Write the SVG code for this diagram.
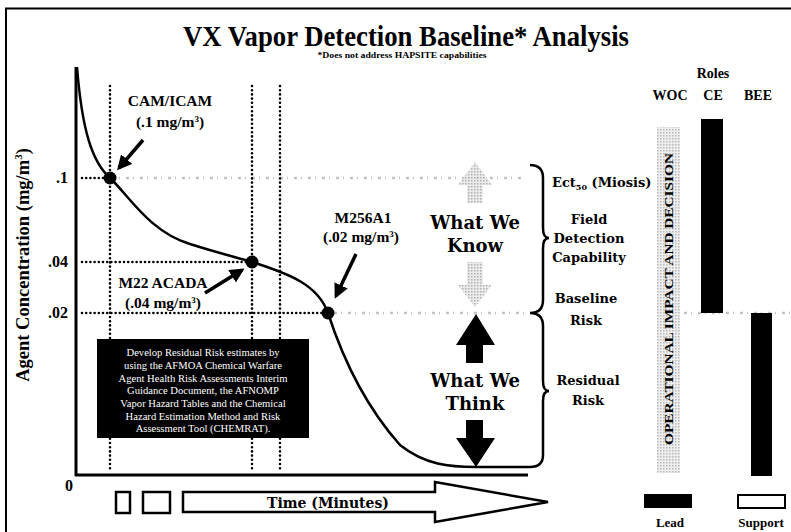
<svg xmlns="http://www.w3.org/2000/svg" width="791" height="532" viewBox="0 0 791 532">
<style>
.t{font-family:"Liberation Serif","Times New Roman",serif;font-weight:bold;fill:#000}
.g{font-family:"DejaVu Serif","Liberation Serif",serif;font-weight:bold;fill:#000}
.dot{stroke:#000;stroke-width:2.6;stroke-linecap:round;stroke-dasharray:0 4.2;fill:none}
.gdot{stroke:#c4c4c4;stroke-width:2.5;stroke-dasharray:3 4 1 6;fill:none}
.ax{stroke:#000;stroke-width:3;fill:none}
.arr{stroke:#000;stroke-width:3.5;fill:none;marker-end:url(#ah)}
.w{font-family:"Liberation Serif","Times New Roman",serif;font-size:10.6px;fill:#fff;text-anchor:middle}
</style>
<defs>
<marker id="ah" viewBox="0 0 10 10" refX="8" refY="5" markerWidth="4.2" markerHeight="4.2" orient="auto" markerUnits="strokeWidth">
<path d="M0,0 L10,5 L0,10 z" fill="#000"/>
</marker>
<pattern id="ht" width="3" height="3" patternUnits="userSpaceOnUse">
<rect width="3" height="3" fill="#e6e6e6"/>
<rect width="1.5" height="1.5" fill="#9a9a9a"/>
</pattern>
</defs>
<rect width="791" height="532" fill="#fff"/>
<g id="frame">
<line x1="5" y1="8.5" x2="791" y2="8.5" stroke="#000" stroke-width="2"/>
<line x1="6" y1="8" x2="6" y2="532" stroke="#000" stroke-width="2"/>
</g>
<g id="title">
<text class="t" x="406" y="46" font-size="29.5" text-anchor="middle" textLength="446" lengthAdjust="spacingAndGlyphs">VX Vapor Detection Baseline* Analysis</text>
<text class="t" x="402" y="58" font-size="7.5" text-anchor="middle" textLength="169" lengthAdjust="spacingAndGlyphs">*Does not address HAPSITE capabilities</text>
</g>
<g id="gray-lines">
<line class="gdot" x1="112" y1="178" x2="525" y2="178"/>
<line class="gdot" x1="334" y1="313" x2="525" y2="313"/>
<line class="gdot" x1="684" y1="313" x2="790" y2="313"/>
</g>
<g id="axes">
<line class="ax" x1="76" y1="67" x2="76" y2="476"/>
<line class="ax" x1="75" y1="475" x2="528" y2="475"/>
<text class="t" x="73" y="491" font-size="16" text-anchor="end">0</text>
<text class="t" x="68" y="183" font-size="16" text-anchor="end">.1</text>
<text class="t" x="68" y="267" font-size="16" text-anchor="end">.04</text>
<text class="t" x="68" y="318" font-size="16" text-anchor="end">.02</text>
<text class="t" font-size="18.5" text-anchor="middle" transform="translate(29,265) rotate(-90)">Agent Concentration (mg/m<tspan font-size="11" dy="-7">3</tspan><tspan dy="7">)</tspan></text>
</g>
<g id="guides">
<line class="dot" x1="110" y1="86" x2="110" y2="472"/>
<line class="dot" x1="252" y1="86" x2="252" y2="472"/>
<line class="dot" x1="280" y1="86" x2="280" y2="472"/>
<line class="dot" x1="82" y1="178" x2="104" y2="178"/>
<line class="dot" x1="82" y1="262" x2="246" y2="262"/>
<line class="dot" x1="82" y1="313" x2="322" y2="313"/>
</g>
<g id="curve">
<path d="M77,67 C82,130 92,162 110,178 C130,197 150,232 190,244 C215,252 235,257 252,262 C290,274 318,285 328,313 C340,350 360,400 400,445 C425,465 450,467 476,467 L530,467 Q543,467 543,455 L543,401 Q543,391 549,391 Q543,391 543,381 L543,326 Q543,313 530,313 Q543,313 543,300 L543,248 Q543,238 549,238 Q543,238 543,228 L543,178 Q543,165 530,165" fill="none" stroke="#000" stroke-width="2.5"/>
</g>
<g id="points">
<circle cx="110" cy="178" r="6.5" fill="#000"/>
<circle cx="252" cy="262" r="6.5" fill="#000"/>
<circle cx="328" cy="313" r="6.5" fill="#000"/>
</g>
<g id="connectors">
<path class="arr" d="M143,140 L119,168"/>
<path class="arr" d="M205,293 L242,270"/>
<path class="arr" d="M356,254 L336,296"/>
</g>
<g id="cam">
<text class="t" x="170" y="106" font-size="15.5" text-anchor="middle">CAM/ICAM</text>
<text class="t" x="170" y="127" font-size="15.5" text-anchor="middle">(.1 mg/m<tspan font-size="9" dy="-5">3</tspan><tspan dy="5">)</tspan></text>
</g>
<g id="m22">
<text class="t" x="163" y="288" font-size="15.5" text-anchor="middle">M22 ACADA</text>
<text class="t" x="163" y="308" font-size="15.5" text-anchor="middle">(.04 mg/m<tspan font-size="9" dy="-5">3</tspan><tspan dy="5">)</tspan></text>
</g>
<g id="m256">
<text class="t" x="363" y="223" font-size="15.5" text-anchor="middle">M256A1</text>
<text class="t" x="361" y="242" font-size="15.5" text-anchor="middle">(.02 mg/m<tspan font-size="9" dy="-5">3</tspan><tspan dy="5">)</tspan></text>
</g>
<g id="residual-box">
<rect x="97" y="339" width="212" height="99" fill="#000"/>
<text class="w" x="203" y="356">Develop Residual Risk estimates by</text>
<text class="w" x="203" y="369">using the AFMOA Chemical Warfare</text>
<text class="w" x="203" y="382">Agent Health Risk Assessments Interim</text>
<text class="w" x="203" y="394">Guidance Document, the AFNOMP</text>
<text class="w" x="203" y="407">Vapor Hazard Tables and the Chemical</text>
<text class="w" x="203" y="420">Hazard Estimation Method and Risk</text>
<text class="w" x="203" y="432">Assessment Tool (CHEMRAT).</text>
</g>
<g id="know">
<path d="M475,162 L492,185 L483,185 L483,203 L467,203 L467,185 L458,185 Z" fill="url(#ht)" opacity="0.8"/>
<path d="M467,262 L483,262 L483,285 L492,285 L475,307 L458,285 L467,285 Z" fill="url(#ht)" opacity="0.8"/>
<text class="g" x="475" y="229" font-size="18" text-anchor="middle">What We</text>
<text class="g" x="475" y="252" font-size="18" text-anchor="middle">Know</text>
</g>
<g id="think">
<path d="M476,314 L495,345 L483,345 L483,363 L466,363 L466,345 L456,345 Z" fill="#000"/>
<path d="M466,420 L483,420 L483,438 L495,438 L476,467 L456,438 L466,438 Z" fill="#000"/>
<text class="g" x="475" y="387" font-size="18" text-anchor="middle">What We</text>
<text class="g" x="475" y="410" font-size="18" text-anchor="middle">Think</text>
</g>
<g id="levels">
<text class="g" x="552" y="187" font-size="13">Ect<tspan font-size="8" dy="3">50</tspan><tspan dy="-3"> (Miosis)</tspan></text>
<text class="g" x="589" y="224" font-size="13" text-anchor="middle">Field</text>
<text class="g" x="589" y="243" font-size="13" text-anchor="middle">Detection</text>
<text class="g" x="589" y="262" font-size="13" text-anchor="middle">Capability</text>
<text class="g" x="586" y="303" font-size="13" text-anchor="middle">Baseline</text>
<text class="g" x="586" y="325" font-size="13" text-anchor="middle">Risk</text>
<text class="g" x="588" y="385" font-size="13" text-anchor="middle">Residual</text>
<text class="g" x="588" y="405" font-size="13" text-anchor="middle">Risk</text>
</g>
<g id="time">
<rect x="116" y="492" width="14" height="21" fill="#fff" stroke="#000" stroke-width="2.5"/>
<rect x="143" y="492" width="27" height="21" fill="#fff" stroke="#000" stroke-width="2.5"/>
<path d="M183,492 L435,492 L435,482 L548,502 L435,522 L435,512 L183,512 Z" fill="#fff" stroke="#000" stroke-width="2.5"/>
<text class="g" x="328" y="508" font-size="14" text-anchor="middle">Time (Minutes)</text>
</g>
<g id="roles">
<text class="t" x="713" y="78" font-size="14" text-anchor="middle">Roles</text>
<text class="t" x="670" y="100" font-size="14" text-anchor="middle">WOC</text>
<text class="t" x="713" y="100" font-size="14" text-anchor="middle">CE</text>
<text class="t" x="758" y="100" font-size="14" text-anchor="middle">BEE</text>
</g>
<g id="woc-bar">
<rect x="657" y="127" width="23" height="346" fill="url(#ht)" opacity="0.7"/>
<text class="t" font-size="13.5" text-anchor="middle" transform="translate(673,299) rotate(-90)" textLength="292" lengthAdjust="spacingAndGlyphs">OPERATIONAL IMPACT AND DECISION</text>
</g>
<g id="ce-bar"><rect x="701" y="119" width="22" height="194" fill="#000"/></g>
<g id="bee-bar"><rect x="751" y="313" width="21" height="163" fill="#000"/></g>
<g id="legend-lead">
<rect x="644" y="494" width="48" height="14" fill="#000"/>
<text class="t" x="670" y="527" font-size="13" text-anchor="middle">Lead</text>
</g>
<g id="legend-support">
<rect x="738" y="495" width="47" height="13" fill="#fff" stroke="#000" stroke-width="2"/>
<text class="t" x="761" y="527" font-size="13" text-anchor="middle">Support</text>
</g>
</svg>
